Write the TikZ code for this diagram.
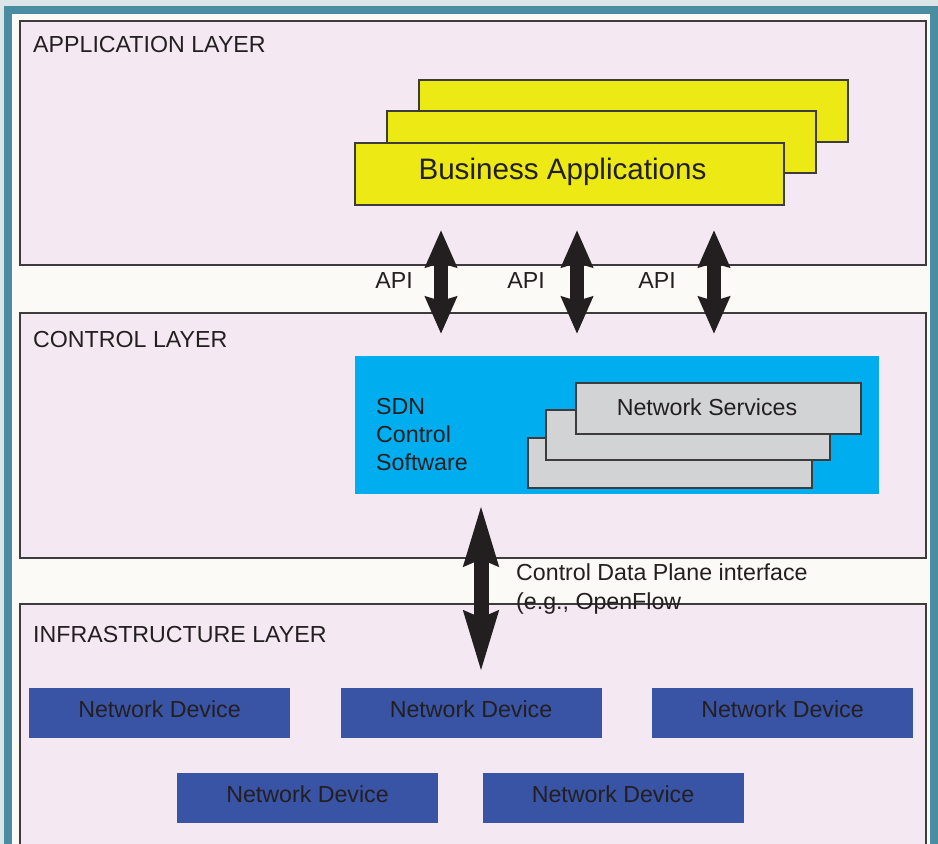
\documentclass[tikz,border=0pt]{standalone}
\usepackage{fontspec}
\setmainfont{Liberation Sans}
\usetikzlibrary{arrows.meta}

\definecolor{backdrop}{HTML}{DCE6E9}
\definecolor{frameteal}{HTML}{4A8CA1}
\definecolor{paper}{HTML}{FBFAF6}
\definecolor{layerpink}{HTML}{F4E9F2}
\definecolor{edge}{HTML}{3D3B3C}
\definecolor{ink}{HTML}{231F20}
\definecolor{appyellow}{HTML}{EDE914}
\definecolor{sdncyan}{HTML}{00AEEF}
\definecolor{svcgray}{HTML}{D1D3D4}
\definecolor{devblue}{HTML}{3953A5}

\begin{document}
\begin{tikzpicture}[x=1pt, y=-1pt,
  txt/.style={text=ink, inner sep=0pt, font=\fontsize{23.2pt}{28pt}\selectfont},
  bigtxt/.style={text=ink, inner sep=0pt, font=\fontsize{29.6pt}{34pt}\selectfont},
  layerbox/.style={draw=edge, line width=2pt, fill=layerpink, anchor=north west, minimum width=906pt, inner sep=0pt},
  appbox/.style={draw=edge, line width=2pt, fill=appyellow, anchor=north west, minimum width=429pt, minimum height=62pt, inner sep=0pt},
  svcbox/.style={draw=edge, line width=2pt, fill=svcgray, anchor=north west, minimum width=284pt, minimum height=50pt, inner sep=0pt},
  sdnbox/.style={fill=sdncyan, anchor=north west, minimum width=524pt, minimum height=138pt, inner sep=0pt},
  devbox/.style={fill=devblue, minimum width=261pt, minimum height=50pt, inner sep=0pt,
    text=ink, font=\fontsize{23.2pt}{28pt}\selectfont, text height=12pt, text depth=4pt},
  apitip/.tip={Stealth[length=37pt, width=31pt, inset=4pt]},
  cdptip/.tip={Stealth[length=60pt, width=32pt, inset=5pt]},
  apiarrow/.style={draw=ink, fill=ink, line width=14.5pt, apitip-apitip},
  cdparrow/.style={draw=ink, fill=ink, line width=15pt, cdptip-cdptip}]

\useasboundingbox (0,0) rectangle (938,844);
\clip (0,0) rectangle (938,844);

% backdrop, frame and paper
\fill[backdrop] (0,0) rectangle (938,844);
\fill[frameteal] (4,6) rectangle (938,844);
\fill[paper] (12,14) rectangle (930,844);

% the three layers
\node[layerbox, minimum height=244.5pt] (applayer) at (19,19.5) {};
\node[layerbox, minimum height=245pt] (ctllayer) at (19,312) {};
\node[layerbox, minimum height=300pt] (infralayer) at (19,603) {};

\node[txt, anchor=base west] (applbl) at (33,52) {APPLICATION LAYER};
\node[txt, anchor=base west] (ctllbl) at (33,347) {CONTROL LAYER};
\node[txt, anchor=base west] (infralbl) at (33,642) {INFRASTRUCTURE LAYER};

% business applications stack
\node[appbox] (biz3) at (418,79) {};
\node[appbox] (biz2) at (386,110) {};
\node[appbox] (biz1) at (354,142) {};
\node[bigtxt, anchor=base] (bizlbl) at (562.5,179) {Business Applications};

% API connectors
\coordinate (api1top) at (441,230);
\coordinate (api1bot) at (441,334);
\coordinate (api2top) at (577,230);
\coordinate (api2bot) at (577,334);
\coordinate (api3top) at (714,230);
\coordinate (api3bot) at (714,334);
\draw[apiarrow] (api1top) -- (api1bot);
\draw[apiarrow] (api2top) -- (api2bot);
\draw[apiarrow] (api3top) -- (api3bot);
\node[txt, anchor=base] (api1lbl) at (394,288) {API};
\node[txt, anchor=base] (api2lbl) at (526,288) {API};
\node[txt, anchor=base] (api3lbl) at (657,288) {API};

% SDN control software
\node[sdnbox] (sdn) at (355,356) {};
\node[txt, anchor=base west] (sdnl1) at (376,414) {SDN};
\node[txt, anchor=base west] (sdnl2) at (376,442) {Control};
\node[txt, anchor=base west] (sdnl3) at (376,470) {Software};

\node[svcbox] (svc3) at (527,437) {};
\node[svcbox] (svc2) at (545,409) {};
\node[svcbox, minimum width=284.5pt, minimum height=51pt] (svc1) at (575,382) {};
\node[txt, anchor=base] (svclbl) at (707,415) {Network Services};

% control data plane interface
\coordinate (cdptop) at (481,504);
\coordinate (cdpbot) at (481,673);
\draw[cdparrow] (cdptop) -- (cdpbot);
\node[txt, anchor=base west] (cdpl1) at (516,580) {Control Data Plane interface};
\node[txt, anchor=base west] (cdpl2) at (516,609) {(e.g., OpenFlow};

% network devices
\node[devbox] (dev1) at (159.5,713) {Network Device};
\node[devbox] (dev2) at (471,713) {Network Device};
\node[devbox] (dev3) at (782.5,713) {Network Device};
\node[devbox] (dev4) at (307.5,798) {Network Device};
\node[devbox] (dev5) at (613,798) {Network Device};

\end{tikzpicture}
\end{document}
